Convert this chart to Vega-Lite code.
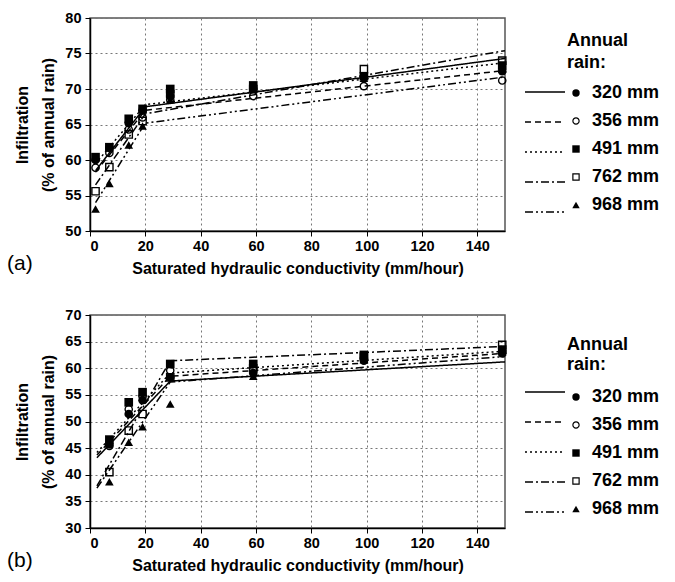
{
  "$schema": "https://vega.github.io/schema/vega-lite/v6.json",
  "padding": {"left": 6, "top": 9, "right": 0, "bottom": 0},
  "background": "white",
  "spacing": 28,
  "config": {
    "font": "Liberation Sans",
    "view": {"stroke": "#555", "strokeWidth": 1.5},
    "axis": {
      "labelFont": "Liberation Sans", "labelFontWeight": "bold", "labelFontSize": 14.5, "labelColor": "black",
      "titleFont": "Liberation Sans", "titleFontWeight": "bold", "titleFontSize": 16, "titleColor": "black",
      "domainColor": "black", "domainWidth": 1.5, "tickColor": "black", "tickSize": 5,
      "grid": true, "gridColor": "#777", "gridDash": [2, 3], "gridWidth": 1, "labelOverlap": false
    },
    "legend": {"labelFont": "Liberation Sans", "titleFont": "Liberation Sans"},
    "title": {"font": "Liberation Sans", "fontWeight": "normal", "fontSize": 21, "color": "black"}
  },
  "datasets": {
    "pa": [
      {"x": 2, "y": 60.0, "rain": "320 mm"}, {"x": 7, "y": 61.7, "rain": "320 mm"}, {"x": 14, "y": 65.2, "rain": "320 mm"}, {"x": 19, "y": 67.0, "rain": "320 mm"}, {"x": 29, "y": 69.0, "rain": "320 mm"}, {"x": 59, "y": 70.0, "rain": "320 mm"}, {"x": 99, "y": 71.8, "rain": "320 mm"}, {"x": 149, "y": 72.5, "rain": "320 mm"},
      {"x": 2, "y": 58.9, "rain": "356 mm"}, {"x": 7, "y": 61.0, "rain": "356 mm"}, {"x": 14, "y": 64.3, "rain": "356 mm"}, {"x": 19, "y": 66.0, "rain": "356 mm"}, {"x": 29, "y": 68.5, "rain": "356 mm"}, {"x": 59, "y": 69.0, "rain": "356 mm"}, {"x": 99, "y": 70.4, "rain": "356 mm"}, {"x": 149, "y": 71.2, "rain": "356 mm"},
      {"x": 2, "y": 60.4, "rain": "491 mm"}, {"x": 7, "y": 61.8, "rain": "491 mm"}, {"x": 14, "y": 65.8, "rain": "491 mm"}, {"x": 19, "y": 67.2, "rain": "491 mm"}, {"x": 29, "y": 70.0, "rain": "491 mm"}, {"x": 59, "y": 70.5, "rain": "491 mm"}, {"x": 99, "y": 71.8, "rain": "491 mm"}, {"x": 149, "y": 73.3, "rain": "491 mm"},
      {"x": 2, "y": 55.6, "rain": "762 mm"}, {"x": 7, "y": 59.0, "rain": "762 mm"}, {"x": 14, "y": 63.6, "rain": "762 mm"}, {"x": 19, "y": 65.5, "rain": "762 mm"}, {"x": 29, "y": 69.3, "rain": "762 mm"}, {"x": 59, "y": 70.0, "rain": "762 mm"}, {"x": 99, "y": 72.8, "rain": "762 mm"}, {"x": 149, "y": 74.0, "rain": "762 mm"},
      {"x": 2, "y": 53.1, "rain": "968 mm"}, {"x": 7, "y": 56.7, "rain": "968 mm"}, {"x": 14, "y": 62.1, "rain": "968 mm"}, {"x": 19, "y": 64.8, "rain": "968 mm"}, {"x": 29, "y": 68.5, "rain": "968 mm"}, {"x": 59, "y": 70.2, "rain": "968 mm"}, {"x": 99, "y": 71.5, "rain": "968 mm"}, {"x": 149, "y": 72.8, "rain": "968 mm"}
    ],
    "la": [
      {"x": 2, "y": 58.5, "curve": "320 mm"}, {"x": 20, "y": 67.5, "curve": "320 mm"}, {"x": 150, "y": 74.3, "curve": "320 mm"},
      {"x": 2, "y": 58.3, "curve": "356 mm"}, {"x": 20, "y": 67.0, "curve": "356 mm"}, {"x": 150, "y": 72.6, "curve": "356 mm"},
      {"x": 2, "y": 59.5, "curve": "491 mm"}, {"x": 20, "y": 67.8, "curve": "491 mm"}, {"x": 150, "y": 73.7, "curve": "491 mm"},
      {"x": 2, "y": 56.5, "curve": "762 mm"}, {"x": 20, "y": 66.5, "curve": "762 mm"}, {"x": 150, "y": 75.4, "curve": "762 mm"},
      {"x": 2, "y": 54.0, "curve": "968 mm"}, {"x": 20, "y": 65.2, "curve": "968 mm"}, {"x": 150, "y": 71.7, "curve": "968 mm"}
    ],
    "pb": [
      {"x": 7, "y": 45.7, "rain": "320 mm"}, {"x": 14, "y": 51.4, "rain": "320 mm"}, {"x": 19, "y": 54.0, "rain": "320 mm"}, {"x": 29, "y": 58.3, "rain": "320 mm"}, {"x": 59, "y": 59.1, "rain": "320 mm"}, {"x": 99, "y": 61.4, "rain": "320 mm"}, {"x": 149, "y": 62.8, "rain": "320 mm"},
      {"x": 7, "y": 45.4, "rain": "356 mm"}, {"x": 14, "y": 52.3, "rain": "356 mm"}, {"x": 19, "y": 54.7, "rain": "356 mm"}, {"x": 29, "y": 59.6, "rain": "356 mm"}, {"x": 59, "y": 59.7, "rain": "356 mm"}, {"x": 99, "y": 61.9, "rain": "356 mm"}, {"x": 149, "y": 63.3, "rain": "356 mm"},
      {"x": 7, "y": 46.6, "rain": "491 mm"}, {"x": 14, "y": 53.6, "rain": "491 mm"}, {"x": 19, "y": 55.5, "rain": "491 mm"}, {"x": 29, "y": 60.8, "rain": "491 mm"}, {"x": 59, "y": 60.8, "rain": "491 mm"}, {"x": 99, "y": 62.5, "rain": "491 mm"}, {"x": 149, "y": 63.5, "rain": "491 mm"},
      {"x": 7, "y": 40.5, "rain": "762 mm"}, {"x": 14, "y": 48.3, "rain": "762 mm"}, {"x": 19, "y": 51.4, "rain": "762 mm"}, {"x": 29, "y": 58.3, "rain": "762 mm"}, {"x": 59, "y": 60.0, "rain": "762 mm"}, {"x": 99, "y": 62.2, "rain": "762 mm"}, {"x": 149, "y": 64.4, "rain": "762 mm"},
      {"x": 7, "y": 38.7, "rain": "968 mm"}, {"x": 14, "y": 46.1, "rain": "968 mm"}, {"x": 19, "y": 49.0, "rain": "968 mm"}, {"x": 29, "y": 53.3, "rain": "968 mm"}, {"x": 59, "y": 58.5, "rain": "968 mm"}, {"x": 99, "y": 61.6, "rain": "968 mm"}, {"x": 149, "y": 63.1, "rain": "968 mm"}
    ],
    "lb": [
      {"x": 2.5, "y": 43.2, "curve": "320 mm"}, {"x": 29, "y": 57.6, "curve": "320 mm"}, {"x": 150, "y": 61.2, "curve": "320 mm"},
      {"x": 2.5, "y": 43.7, "curve": "356 mm"}, {"x": 29, "y": 58.5, "curve": "356 mm"}, {"x": 150, "y": 62.8, "curve": "356 mm"},
      {"x": 2.5, "y": 44.2, "curve": "491 mm"}, {"x": 29, "y": 59.1, "curve": "491 mm"}, {"x": 150, "y": 63.2, "curve": "491 mm"},
      {"x": 2.5, "y": 37.9, "curve": "762 mm"}, {"x": 29, "y": 61.4, "curve": "762 mm"}, {"x": 150, "y": 64.1, "curve": "762 mm"},
      {"x": 2.5, "y": 37.5, "curve": "968 mm"}, {"x": 29, "y": 57.4, "curve": "968 mm"}, {"x": 150, "y": 62.2, "curve": "968 mm"}
    ]
  },
  "vconcat": [
    {
      "width": 415, "height": 213,
      "title": {"text": "(a)", "orient": "bottom", "anchor": "start", "frame": "group", "dx": -83, "offset": -24},
      "encoding": {
        "x": {"field": "x", "type": "quantitative", "scale": {"domain": [0, 150]}, "axis": {"values": [0, 20, 40, 60, 80, 100, 120, 140], "title": "Saturated hydraulic conductivity (mm/hour)", "titlePadding": 8, "labelPadding": 3}},
        "y": {"field": "y", "type": "quantitative", "scale": {"domain": [50, 80]}, "axis": {"values": [50, 55, 60, 65, 70, 75, 80], "title": ["Infiltration", "(% of annual rain)"], "titleLineHeight": 26, "titlePadding": 8, "labelPadding": 4}}
      },
      "layer": [
        {
          "data": {"name": "la"},
          "mark": {"type": "line", "color": "black", "strokeWidth": 1.5},
          "encoding": {
            "strokeDash": {"field": "curve", "type": "nominal", "scale": {"range": [[1, 0], [6, 4], [2, 3], [8, 3, 2, 3], [8, 3, 2, 3, 2, 3]]},
              "legend": {"orient": "none", "legendX": 434, "legendY": 53, "title": null, "labelExpr": "''", "symbolType": "stroke", "symbolSize": 1600, "symbolStrokeColor": "black", "symbolStrokeWidth": 1.5, "rowPadding": -2, "labelFontSize": 18}}
          }
        },
        {
          "data": {"name": "pa"},
          "mark": {"type": "point", "filled": true, "color": "black", "opacity": 1, "size": 75},
          "encoding": {
            "shape": {"field": "rain", "type": "nominal", "scale": {"domain": ["320 mm", "356 mm", "491 mm", "762 mm", "968 mm"], "range": ["circle", "M1,0A1,1,0,1,1,-1,0A1,1,0,1,1,1,0ZM0.68,0A0.68,0.68,0,1,0,-0.68,0A0.68,0.68,0,1,0,0.68,0Z", "square", "M-1,-1H1V1H-1ZM-0.68,-0.68V0.68H0.68V-0.68Z", "triangle-up"]},
              "legend": {"orient": "none", "legendX": 477, "legendY": 14, "title": ["Annual", "rain:"], "titleFontSize": 18, "titleFontWeight": "bold", "titleLineHeight": 22, "titleColor": "black", "titlePadding": 12, "labelFontSize": 18, "labelFontWeight": "bold", "labelColor": "black", "symbolSize": 55, "symbolFillColor": "black", "symbolStrokeWidth": 0, "rowPadding": 10, "labelOffset": 7}}
          }
        }
      ]
    },
    {
      "width": 415, "height": 213,
      "title": {"text": "(b)", "orient": "bottom", "anchor": "start", "frame": "group", "dx": -83, "offset": -24},
      "encoding": {
        "x": {"field": "x", "type": "quantitative", "scale": {"domain": [0, 150]}, "axis": {"values": [0, 20, 40, 60, 80, 100, 120, 140], "title": "Saturated hydraulic conductivity (mm/hour)", "titlePadding": 8, "labelPadding": 3}},
        "y": {"field": "y", "type": "quantitative", "scale": {"domain": [30, 70]}, "axis": {"values": [30, 35, 40, 45, 50, 55, 60, 65, 70], "title": ["Infiltration", "(% of annual rain)"], "titleLineHeight": 26, "titlePadding": 8, "labelPadding": 4}}
      },
      "layer": [
        {
          "data": {"name": "lb"},
          "mark": {"type": "line", "color": "black", "strokeWidth": 1.5},
          "encoding": {
            "strokeDash": {"field": "curve", "type": "nominal", "scale": {"range": [[1, 0], [6, 4], [2, 3], [8, 3, 2, 3], [8, 3, 2, 3, 2, 3]]},
              "legend": {"orient": "none", "legendX": 434, "legendY": 56, "title": null, "labelExpr": "''", "symbolType": "stroke", "symbolSize": 1600, "symbolStrokeColor": "black", "symbolStrokeWidth": 1.5, "rowPadding": -2, "labelFontSize": 18}}
          }
        },
        {
          "data": {"name": "pb"},
          "mark": {"type": "point", "filled": true, "color": "black", "opacity": 1, "size": 75},
          "encoding": {
            "shape": {"field": "rain", "type": "nominal", "scale": {"domain": ["320 mm", "356 mm", "491 mm", "762 mm", "968 mm"], "range": ["circle", "M1,0A1,1,0,1,1,-1,0A1,1,0,1,1,1,0ZM0.68,0A0.68,0.68,0,1,0,-0.68,0A0.68,0.68,0,1,0,0.68,0Z", "square", "M-1,-1H1V1H-1ZM-0.68,-0.68V0.68H0.68V-0.68Z", "triangle-up"]},
              "legend": {"orient": "none", "legendX": 477, "legendY": 21, "title": ["Annual", "rain:"], "titleFontSize": 18, "titleFontWeight": "bold", "titleLineHeight": 20, "titleColor": "black", "titlePadding": 14, "labelFontSize": 18, "labelFontWeight": "bold", "labelColor": "black", "symbolSize": 55, "symbolFillColor": "black", "symbolStrokeWidth": 0, "rowPadding": 10, "labelOffset": 7}}
          }
        }
      ]
    }
  ],
  "resolve": {"scale": {"x": "independent", "y": "independent", "shape": "independent", "strokeDash": "independent"}}
}
